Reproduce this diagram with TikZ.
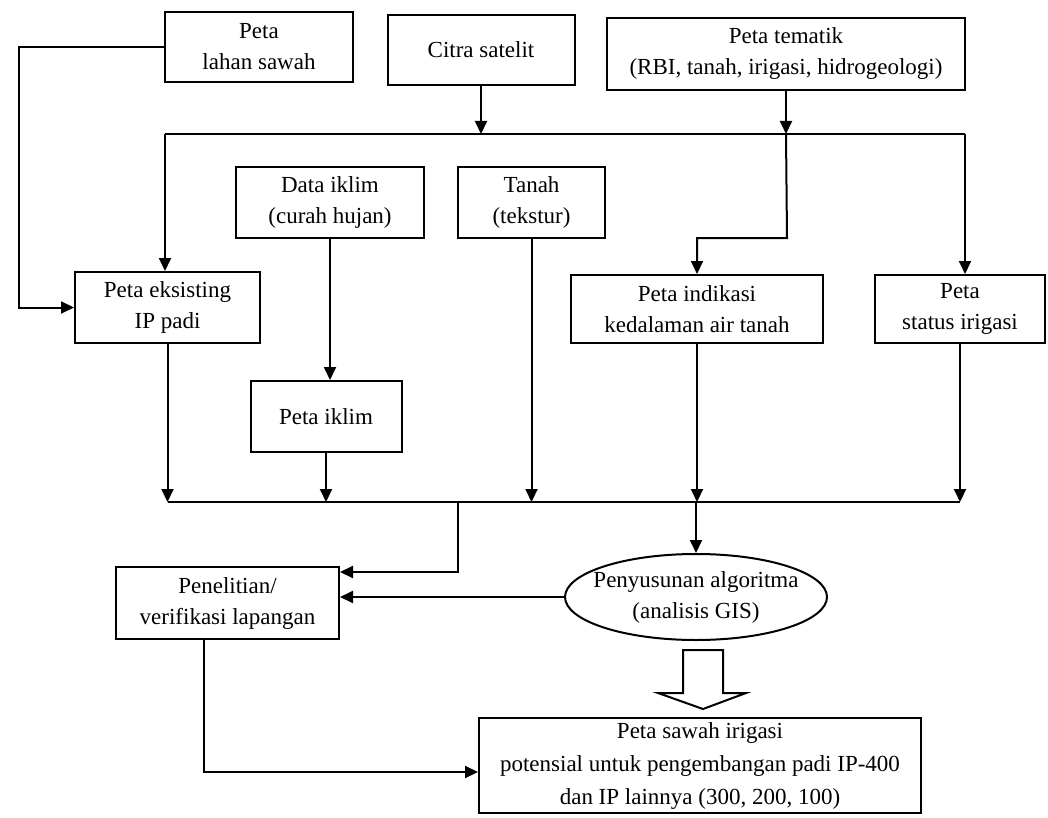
\documentclass[tikz,border=0pt]{standalone}
\usepackage{fontspec}
\setmainfont{Liberation Serif}
\usetikzlibrary{arrows.meta,shapes.geometric,calc}
\begin{document}
\begin{tikzpicture}[x=1pt,y=-1pt,
  every node/.style={font=\fontsize{23}{31}\selectfont, align=center, inner sep=2pt},
  box/.style={draw, line width=2pt, minimum width=#1, minimum height=70pt},
  oval/.style={draw, ellipse, line width=2pt, minimum width=262pt, minimum height=86pt, inner sep=-14pt},
  line/.style={line width=2pt},
  arr/.style={line width=2pt, -{Triangle[length=13pt,width=12pt]}},
  hollow/.style={draw, line width=2pt, fill=white, line join=miter}
]
\useasboundingbox (0,0) rectangle (1048,818);

% top row
\node[box=188pt] (lahan) at (259,47) {Peta\\lahan sawah};
\node[box=187pt] (citra) at (481,50) {Citra satelit};
\node[box=358pt, minimum height=72pt] (tematik) at (786,54) {Peta tematik\\(RBI, tanah, irigasi, hidrogeologi)};

% second row
\node[box=188pt, minimum height=71pt] (dataiklim) at (330,202.5) {Data iklim\\(curah hujan)};
\node[box=147pt, minimum height=71pt] (tanah) at (531.5,202.5) {Tanah\\(tekstur)};

% third row
\node[box=185pt, minimum height=71pt] (eksisting) at (167.5,307.5) {Peta eksisting\\IP padi};
\node[box=252pt, minimum height=68pt] (indikasi) at (697,309) {Peta indikasi\\kedalaman air tanah};
\node[box=170pt, minimum height=68pt] (status) at (960,309) {Peta\\status irigasi};
\node[box=151pt, minimum height=71pt] (iklim) at (326,416.5) {Peta iklim};

% lower part
\node[box=223pt, minimum height=72pt] (penelitian) at (227.5,603) {Penelitian/\\verifikasi lapangan};
\node[oval] (alg) at (696,597) {Penyusunan algoritma\\(analisis GIS)};
\node[box=442pt, minimum height=95pt, font=\fontsize{23}{33}\selectfont] (final) at (700,765.5) {Peta sawah irigasi\\potensial untuk pengembangan padi IP-400\\dan IP lainnya (300, 200, 100)};

% junction coordinates
\coordinate (topL) at (165,134);
\coordinate (topR) at (965,134);
\coordinate (bend) at (787,238);
\coordinate (botY) at (0,502);
\coordinate (j1) at (458,502);
\coordinate (j1b) at (458,572);
\coordinate (pdown) at (204,772);

% top connectors
\draw[arr] (lahan.west) -- ++(-145,0) |- (eksisting.west);
\draw[arr] (citra.south) -- (citra.south |- topL);
\draw[arr] (tematik.south) -- (tematik.south |- topL);
\draw[line] (topL) -- (topR);
\draw[arr] (topL) -- (topL |- eksisting.north);
\draw[arr] (tematik.south |- topL) -- (bend) -| (indikasi.north);
\draw[arr] (topR) -- (topR |- status.north);
\draw[arr] (dataiklim.south) -- (dataiklim.south |- iklim.north);

% to bottom line
\draw[arr] (eksisting.south) -- (eksisting.south |- botY);
\draw[arr] (iklim.south) -- (iklim.south |- botY);
\draw[arr] (tanah.south) -- (tanah.south |- botY);
\draw[arr] (indikasi.south) -- (indikasi.south |- botY);
\draw[arr] (status.south) -- (status.south |- botY);
\draw[line] (eksisting.south |- botY) -- (status.south |- botY);

% lower connectors
\draw[arr] (j1) -- (j1b) -- (j1b -| penelitian.east);
\draw[arr] (alg.north |- botY) -- (alg.north);
\draw[arr] (alg.west) -- (alg.west -| penelitian.east);
\draw[arr] (pdown |- penelitian.south) -- (pdown) -- (pdown -| final.west);

% hollow arrow
\draw[hollow] ($(alg.south)+(-13,9)$) -- ($(alg.south)+(27,9)$) -- ($(alg.south)+(27,52)$)
  -- ($(alg.south)+(50,52)$) -- ($(final.north)+(3,-8)$) -- ($(alg.south)+(-38,52)$)
  -- ($(alg.south)+(-13,52)$) -- cycle;
\end{tikzpicture}
\end{document}
